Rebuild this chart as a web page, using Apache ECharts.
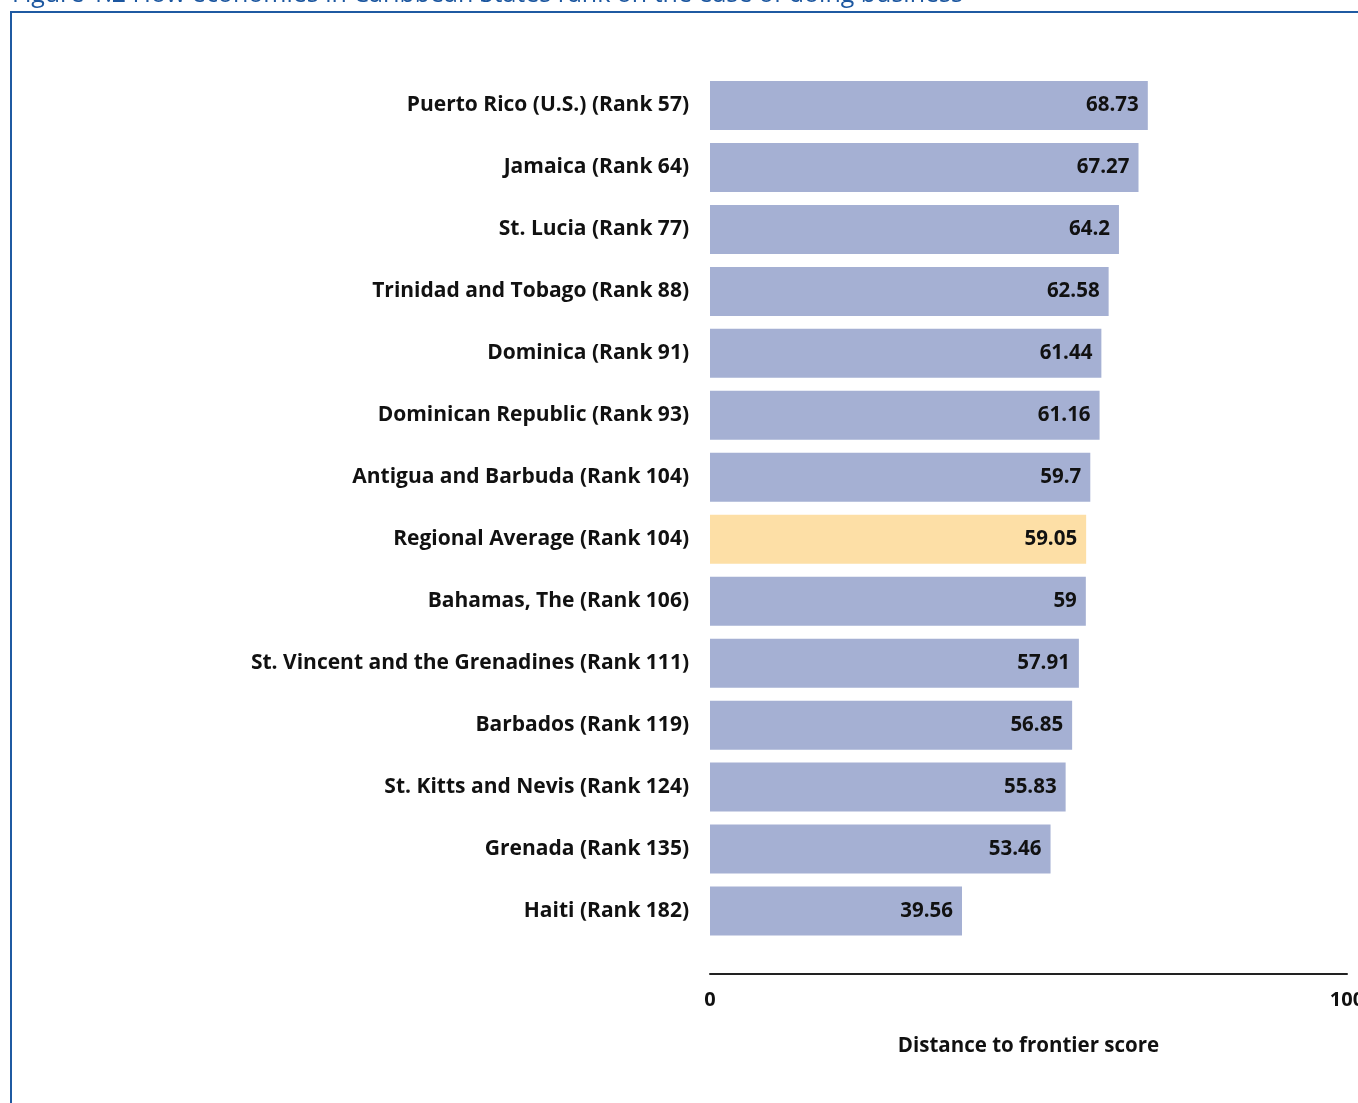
<!DOCTYPE html>
<html>
<head>
<meta charset="utf-8">
<script src="https://cdn.jsdelivr.net/npm/echarts@6/dist/echarts.min.js"></script>
<style>
html,body{margin:0;padding:0;background:#fff;overflow:hidden;}
#chart{width:1358px;height:1103px;}
</style>
</head>
<body>
<div id="chart"></div>
<script>
var titleText = 'Figure 1.2 How economies in Caribbean States rank on the ease of doing business';
var categories = [
  'Puerto Rico (U.S.) (Rank 57)',
  'Jamaica (Rank 64)',
  'St. Lucia (Rank 77)',
  'Trinidad and Tobago (Rank 88)',
  'Dominica (Rank 91)',
  'Dominican Republic (Rank 93)',
  'Antigua and Barbuda (Rank 104)',
  'Regional Average (Rank 104)',
  'Bahamas, The (Rank 106)',
  'St. Vincent and the Grenadines (Rank 111)',
  'Barbados (Rank 119)',
  'St. Kitts and Nevis (Rank 124)',
  'Grenada (Rank 135)',
  'Haiti (Rank 182)'
];
var scores = [68.73, 67.27, 64.2, 62.58, 61.44, 61.16, 59.7, 59.05, 59, 57.91, 56.85, 55.83, 53.46, 39.56];
var highlightCategory = 'Regional Average (Rank 104)';
var axisName = 'Distance to frontier score';

var FONT = '"Open Sans", sans-serif';
var chart = echarts.init(document.getElementById('chart'), null, {renderer: 'canvas', width: 1358, height: 1103});
var barData = scores.map(function (v, i) {
  return {
    value: v,
    itemStyle: {color: categories[i] === highlightCategory ? '#fddfa6' : '#a5b0d3'}
  };
});
chart.setOption({
  animation: false,
  backgroundColor: '#ffffff',
  graphic: [
    {
      type: 'text',
      left: 12,
      top: -18,
      style: {
        text: titleText,
        font: '25px "Open Sans", sans-serif',
        fill: '#1c57a0'
      }
    },
    {
      type: 'rect',
      shape: {x: 11, y: 12, width: 1500, height: 1300},
      style: {fill: 'none', stroke: '#1f5aa2', lineWidth: 2}
    }
  ],
  grid: {left: 710, width: 637, top: 74.5, height: 867.5, containLabel: false, outerBoundsMode: 'none'},
  xAxis: {
    type: 'value',
    min: 0,
    max: 100,
    interval: 100,
    offset: 32,
    axisLine: {show: true, lineStyle: {color: '#222', width: 2}},
    axisTick: {show: false},
    splitLine: {show: false},
    axisLabel: {
      margin: 16,
      fontFamily: FONT,
      fontWeight: 'bold',
      fontSize: 20,
      color: '#111',
      hideOverlap: false
    },
    name: axisName,
    nameLocation: 'middle',
    nameGap: 62,
    nameTextStyle: {fontFamily: FONT, fontWeight: 'bold', fontSize: 20.5, color: '#111'}
  },
  yAxis: {
    type: 'category',
    data: categories,
    inverse: true,
    axisLine: {show: false},
    axisTick: {show: false},
    axisLabel: {
      margin: 21,
      fontFamily: FONT,
      fontWeight: 'bold',
      fontSize: 21,
      color: '#111'
    }
  },
  series: [{
    type: 'bar',
    data: barData,
    barWidth: 49,
    label: {
      show: true,
      position: 'insideRight',
      distance: 9,
      fontFamily: FONT,
      fontWeight: 'bold',
      fontSize: 20.5,
      color: '#111'
    }
  }]
});
</script>
</body>
</html>
